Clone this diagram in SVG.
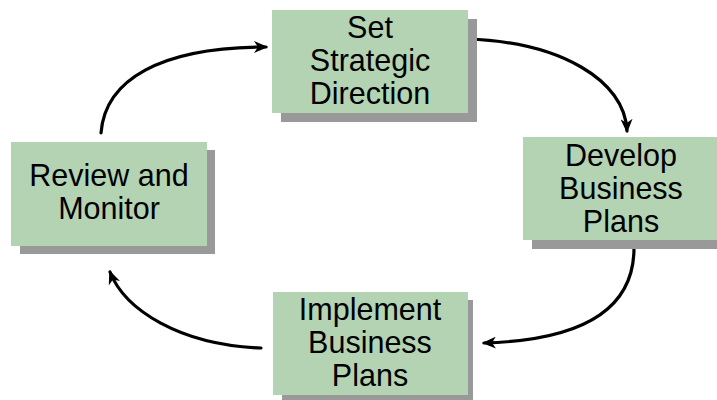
<svg xmlns="http://www.w3.org/2000/svg" width="717" height="400" viewBox="0 0 717 400">
<defs>
<style>
.shadow{fill:#999999;}
.box{fill:#B3D3B3;}
.lbl{font-family:"Liberation Sans",Arial,sans-serif;font-size:30.5px;fill:#000;text-anchor:middle;}
.conn{fill:none;stroke:#000;stroke-width:3.2;stroke-linecap:round;marker-end:url(#arr);}
</style>
<marker id="arr" markerUnits="userSpaceOnUse" viewBox="0 0 14 12" refX="12" refY="6" markerWidth="14" markerHeight="12" orient="auto">
<path d="M0,0 L14,6 L0,12 L4,6 Z" fill="#000"/>
</marker>
</defs>
<rect width="717" height="400" fill="#fff"/>
<g id="connectors">
<path class="conn" d="M101,133 C105,80 160,47 266,47"/>
<path class="conn" d="M467,39 C560,42 625,80 627,131"/>
<path class="conn" d="M634,248 C634,305 590,340 484,343"/>
<path class="conn" d="M261,348 C180,345 125,310 110,272"/>
</g>
<g id="node-set-direction">
<rect class="shadow" x="281" y="19" width="196" height="103"/>
<rect class="box" x="272" y="10" width="196" height="103"/>
<text class="lbl" x="370" y="38">Set</text>
<text class="lbl" x="370" y="71">Strategic</text>
<text class="lbl" x="370" y="104">Direction</text>
</g>
<g id="node-develop">
<rect class="shadow" x="532" y="146" width="196" height="103"/>
<rect class="box" x="523" y="137" width="196" height="103"/>
<text class="lbl" x="621" y="166">Develop</text>
<text class="lbl" x="621" y="199">Business</text>
<text class="lbl" x="621" y="232">Plans</text>
</g>
<g id="node-implement">
<rect class="shadow" x="282" y="300" width="191" height="103"/>
<rect class="box" x="273" y="292" width="195" height="103"/>
<text class="lbl" x="370" y="320">Implement</text>
<text class="lbl" x="370" y="353">Business</text>
<text class="lbl" x="370" y="386">Plans</text>
</g>
<g id="node-review">
<rect class="shadow" x="20" y="150" width="195" height="104"/>
<rect class="box" x="11" y="142" width="196" height="104"/>
<text class="lbl" x="109" y="186">Review and</text>
<text class="lbl" x="109" y="219">Monitor</text>
</g>
</svg>
